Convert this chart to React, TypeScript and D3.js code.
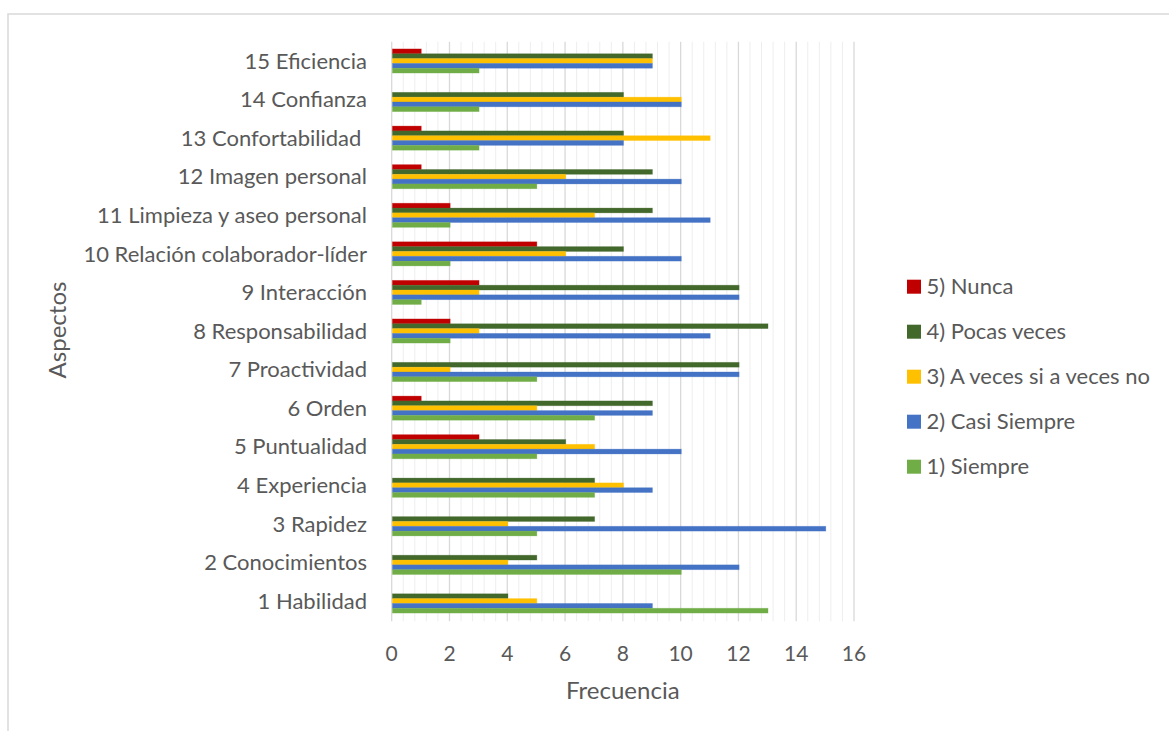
import React from "react";
import * as d3 from "d3";

// Survey aspects, listed bottom (1) to top (15)
const categories = [
  "1 Habilidad",
  "2 Conocimientos",
  "3 Rapidez",
  "4 Experiencia",
  "5 Puntualidad",
  "6 Orden",
  "7 Proactividad",
  "8 Responsabilidad",
  "9 Interacción",
  "10 Relación colaborador-líder",
  "11 Limpieza y aseo personal",
  "12 Imagen personal",
  "13 Confortabilidad ",
  "14 Confianza",
  "15 Eficiencia",
];

const siempre = [13, 10, 5, 7, 5, 7, 5, 2, 1, 2, 2, 5, 3, 3, 3];
const casiSiempre = [9, 12, 15, 9, 10, 9, 12, 11, 12, 10, 11, 10, 8, 10, 9];
const aVeces = [5, 4, 4, 8, 7, 5, 2, 3, 3, 6, 7, 6, 11, 10, 9];
const pocasVeces = [4, 5, 7, 7, 6, 9, 12, 13, 12, 8, 9, 9, 8, 8, 9];
const nunca = [0, 0, 0, 0, 3, 1, 0, 2, 3, 5, 2, 1, 1, 0, 1];

const xTicks = [0, 2, 4, 6, 8, 10, 12, 14, 16];

// Series from top of each group to bottom (legend order as well)
const series = [
  { name: "5) Nunca", values: nunca, color: "#C00000" },
  { name: "4) Pocas veces", values: pocasVeces, color: "#43682B" },
  { name: "3) A veces si a veces no", values: aVeces, color: "#FFC000" },
  { name: "2) Casi Siempre", values: casiSiempre, color: "#4472C4" },
  { name: "1) Siempre", values: siempre, color: "#70AD47" },
];

const W = 1169;
const H = 731;
const plot = { left: 391.7, right: 854, top: 41.7, bottom: 620.3 };
const textColor = "#595959";
const font = "Lato, 'Open Sans', sans-serif";

export default function App() {
  const x = d3.scaleLinear().domain([0, 16]).range([plot.left, plot.right]);
  const y = d3
    .scaleBand<string>()
    .domain([...categories].reverse())
    .range([plot.top, plot.bottom])
    .paddingInner(0)
    .paddingOuter(0);
  const inner = d3
    .scaleBand<string>()
    .domain(series.map((s) => s.name))
    .range([0, y.bandwidth()])
    .paddingInner(0)
    .paddingOuter(1.5);

  const minorTicks = d3.range(0, 16.0001, 0.4).filter((v) => Math.abs(v / 2 - Math.round(v / 2)) > 1e-6);

  return (
    <svg
      width={W}
      height={H}
      style={{ position: "absolute", left: 0, top: 0, background: "#fff" }}
      fontFamily={font}
    >
      <rect x={0} y={0} width={W} height={H} fill="#fff" />
      {/* chart area frame */}
      <rect x={8} y={14} width={W + 20} height={H + 20} fill="none" stroke="#d9d9d9" strokeWidth={1.5} />

      {/* minor gridlines */}
      {minorTicks.map((v) => (
        <line
          key={"m" + v}
          x1={x(v)}
          x2={x(v)}
          y1={plot.top}
          y2={plot.bottom + 1}
          stroke="#eeeeee"
          strokeWidth={1}
        />
      ))}
      {/* major gridlines */}
      {xTicks.map((v) => (
        <line
          key={"M" + v}
          x1={x(v)}
          x2={x(v)}
          y1={plot.top}
          y2={plot.bottom + 1}
          stroke="#d9d9d9"
          strokeWidth={1.3}
        />
      ))}

      {/* bars */}
      {categories.map((cat, i) => (
        <g key={cat} transform={`translate(0,${y(cat)})`}>
          {series.map((s) =>
            s.values[i] > 0 ? (
              <rect
                key={s.name}
                x={x(0) + 0.7}
                y={inner(s.name)}
                width={x(s.values[i]) - x(0)}
                height={inner.bandwidth()}
                fill={s.color}
                stroke={s.color}
                strokeOpacity={0.35}
                strokeWidth={0.8}
              />
            ) : null
          )}
        </g>
      ))}

      {/* category labels */}
      {categories.map((cat) => (
        <text
          key={"l" + cat}
          x={367}
          y={(y(cat) as number) + y.bandwidth() / 2}
          dy="0.35em"
          textAnchor="end"
          fontSize={22}
          fill={textColor}
          style={{ whiteSpace: "pre" }}
        >
          {cat}
        </text>
      ))}

      {/* x tick labels */}
      {xTicks.map((v) => (
        <text key={"t" + v} x={x(v)} y={660.7} textAnchor="middle" fontSize={21} fill={textColor}>
          {v}
        </text>
      ))}

      {/* axis titles */}
      <text x={(plot.left + plot.right) / 2} y={699} textAnchor="middle" fontSize={24} fill={textColor}>
        Frecuencia
      </text>
      <text
        transform={`translate(66,330) rotate(-90)`}
        textAnchor="middle"
        fontSize={24}
        fill={textColor}
      >
        Aspectos
      </text>

      {/* legend */}
      {series.map((s, i) => {
        const cy = 286.7 + i * 45;
        return (
          <g key={"lg" + s.name}>
            <rect x={907} y={cy - 7} width={14} height={14} fill={s.color} />
            <text x={926.5} y={cy} dy="0.35em" fontSize={22} fill={textColor}>
              {s.name}
            </text>
          </g>
        );
      })}
    </svg>
  );
}
